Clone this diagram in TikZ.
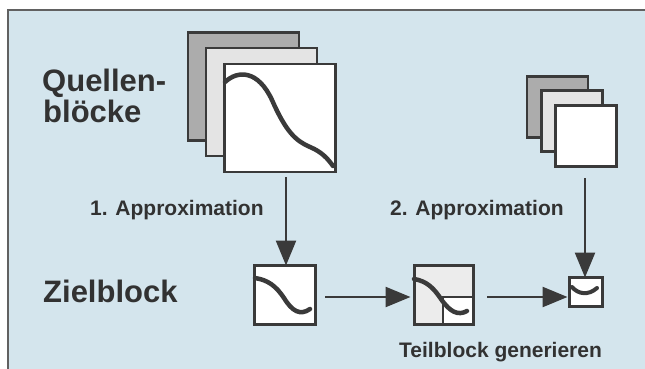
\documentclass[tikz,border=0pt]{standalone}
\usepackage{fontspec}
\setmainfont{Liberation Sans}
\usetikzlibrary{arrows.meta}
\definecolor{bgblue}{RGB}{212,229,237}
\definecolor{ink}{RGB}{58,58,58}
\definecolor{txt}{RGB}{50,50,50}
\definecolor{gdark}{RGB}{172,172,172}
\definecolor{glight}{RGB}{228,228,228}
\definecolor{gpale}{RGB}{236,236,236}
\tikzset{
  blk/.style={draw=ink, line width=2.7pt, inner sep=0pt, outer sep=0pt},
  bigsq/.style={blk, minimum width=111pt, minimum height=108pt},
  smsq/.style={blk, minimum width=61pt, minimum height=61pt},
  curve/.style={draw=ink, line width=4.5pt, line cap=round},
  arr/.style={draw=ink, line width=2.5pt, -{Triangle[length=25pt,width=20pt]}},
  bigtxt/.style={font=\bfseries\fontsize{31}{31}\selectfont, text=txt, inner sep=0pt, anchor=base west},
  medtxt/.style={font=\bfseries\fontsize{21}{21}\selectfont, text=txt, inner sep=0pt, anchor=base west},
}
\begin{document}
\begin{tikzpicture}[x=1pt,y=-1pt]
\useasboundingbox (0,0) rectangle (645,369);
\fill[white] (0,0) rectangle (645,369);
\draw[fill=bgblue, draw=ink!80, line width=1.2pt] (8,10) rectangle (652,376);

% texts
\node[bigtxt] (q1) at (42,92) {Quellen-};
\node[bigtxt] (q2) at (43,122) {blöcke};
\node[bigtxt] (ziel) at (43,302) {Zielblock};
\node[medtxt] (a1) at (90,215) {1. Approximation};
\node[medtxt] (a2) at (390,215) {2. Approximation};
\node[medtxt] (tb) at (399,357) {Teilblock generieren};

% big source stack
\node[bigsq, fill=gdark] (s1) at (243.5,86.5) {};
\node[bigsq, fill=glight] (s2) at (261.5,102) {};
\node[bigsq, fill=white] (s3) at (280,118) {};
\draw[curve] (225,82) .. controls (238,70) and (258,70) .. (272,100)
  .. controls (286,132) and (296,141) .. (310,147)
  .. controls (322,152) and (328,159) .. (333,166);

% small source stack
\node[smsq, fill=gdark] (t1) at (557.5,107) {};
\node[smsq, fill=glight] (t2) at (572,121) {};
\node[smsq, fill=white] (t3) at (586,136) {};

% target block 1
\node[blk, fill=white, minimum width=61pt, minimum height=59pt] (b1) at (285,295) {};
\draw[curve] (255,278) .. controls (268,280) and (276,286) .. (284,298)
  .. controls (292,311) and (300,316) .. (310,309);

% target block 2
\node[blk, fill=gpale, minimum width=59pt, minimum height=59pt] (b2) at (444,295) {};
\coordinate (sbl) at (443,326);
\coordinate (sbc) at (443,297);
\coordinate (sbr) at (475,297);
\fill[white] (sbl) rectangle (b2.east |- sbr);
\draw[curve] (414,279) .. controls (426,281) and (433,287) .. (441,299)
  .. controls (450,312) and (458,316) .. (467,311);
\draw[draw=ink, line width=2pt] (sbl) -- (sbc) -- (sbr);
\node[blk, minimum width=59pt, minimum height=59pt] (b2f) at (444,295) {};

% small target block
\node[blk, fill=white, minimum width=33pt, minimum height=29pt] (b3) at (586,292) {};
\draw[curve, line width=4pt] (572,287) .. controls (578,294) and (588,296) .. (597,288);

% arrows
\coordinate (a1s) at (286,177);
\draw[arr] (a1s) -- (a1s |- b1.north);
\coordinate (a4s) at (585,178);
\draw[arr] (a4s) -- (a4s |- b3.north);
\coordinate (h1) at (325,297);
\coordinate (h2) at (487,297);
\draw[arr] (h1) -- ([xshift=-4pt]h1 -| b2.west);
\draw[arr] (h2) -- ([xshift=-2pt]h2 -| b3.west);
\end{tikzpicture}
\end{document}
